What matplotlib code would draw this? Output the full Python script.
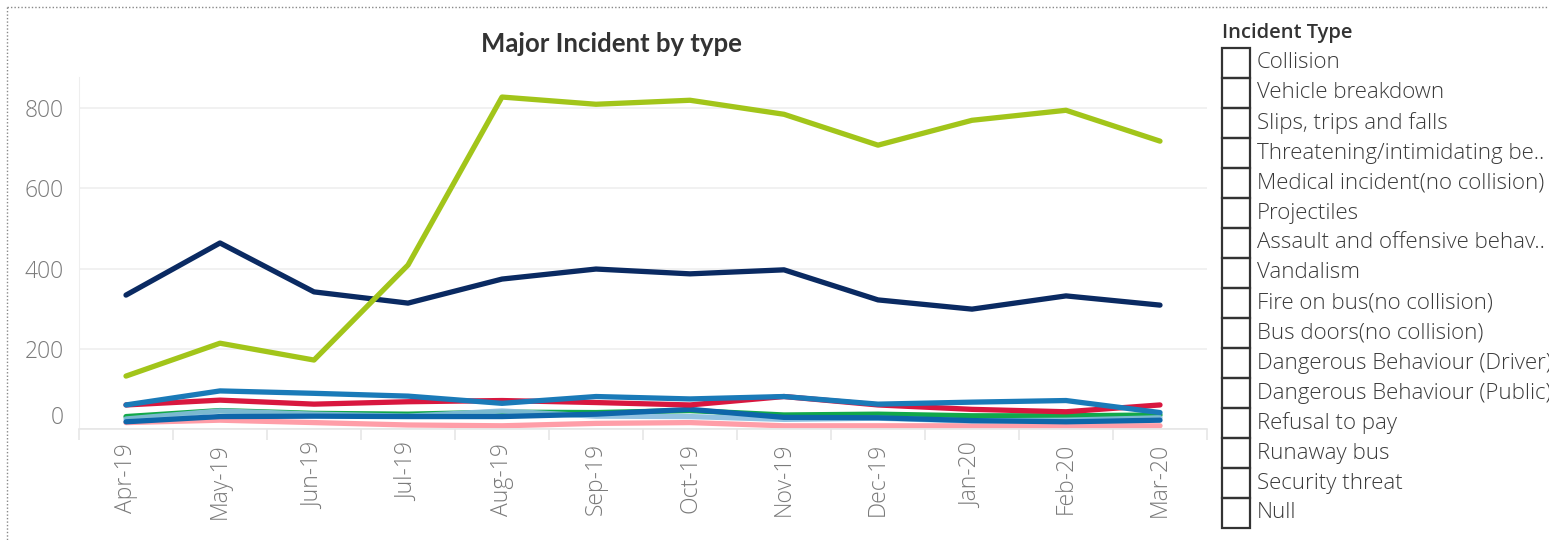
import matplotlib.pyplot as plt
from matplotlib.patches import Rectangle
from matplotlib.lines import Line2D
from matplotlib.transforms import ScaledTranslation

### Data ###
months = ['Apr-19', 'May-19', 'Jun-19', 'Jul-19', 'Aug-19', 'Sep-19',
          'Oct-19', 'Nov-19', 'Dec-19', 'Jan-20', 'Feb-20', 'Mar-20']

lime = [132, 214, 172, 409, 828, 810, 820, 785, 708, 770, 795, 718]
navy = [334, 464, 342, 314, 374, 399, 387, 397, 322, 299, 332, 309]
blue = [60, 95, 89, 82, 64, 81, 75, 81, 62, 67, 71, 41]
red = [60, 72, 62, 68, 71, 66, 60, 81, 60, 49, 43, 60]
green = [31, 46, 39, 37, 42, 41, 46, 35, 37, 33, 33, 35]
light_blue = [25, 45, 37, 32, 45, 32, 31, 24, 27, 20, 22, 28]
dark_blue = [18, 31, 32, 31, 31, 37, 49, 29, 28, 21, 18, 22]
pink = [16, 22, 16, 10, 8, 14, 16, 8, 8, 8, 8, 8]

legend_items = ['Collision', 'Vehicle breakdown', 'Slips, trips and falls',
                'Threatening/intimidating be..', 'Medical incident(no collision)',
                'Projectiles', 'Assault and offensive behav..', 'Vandalism',
                'Fire on bus(no collision)', 'Bus doors(no collision)',
                'Dangerous Behaviour (Driver)', 'Dangerous Behaviour (Public)',
                'Refusal to pay', 'Runaway bus', 'Security threat', 'Null']

W, H = 1549, 540
fig = plt.figure(figsize=(W / 100, H / 100), dpi=100)
plt.rcParams['font.family'] = ['Open Sans', 'DejaVu Sans']

ax = fig.add_axes([79 / W, 1 - 429 / H, (1207 - 79) / W, (429 - 77) / H])

x = list(range(len(months)))
series = [
    (pink, '#ff9ea8', 1.0),
    (green, '#12a84a', 1.0),
    (light_blue, '#86bcdf', 0.9),
    (dark_blue, '#0e66aa', 1.0),
    (red, '#d8173f', 1.0),
    (blue, '#1a7ab8', 1.0),
    (navy, '#0a2a62', 1.0),
    (lime, '#a2c51a', 1.0),
]
for vals, col, a in series:
    ax.plot(x, vals, color=col, lw=3.8, alpha=a, solid_capstyle='round',
            solid_joinstyle='round')

ax.set_xlim(-0.5, 11.5)
ax.set_ylim(0, 878)
ax.set_yticks([0, 200, 400, 600, 800])
ax.set_xticks(x)
ax.set_xticklabels(months, rotation=90)
ax.grid(axis='y', color='#efefef', lw=1.2)
ax.set_axisbelow(True)
for s in ['top', 'right']:
    ax.spines[s].set_visible(False)
ax.spines['left'].set_color('#eeeeee')
ax.spines['bottom'].set_color('#e6e6e6')
ax.spines['bottom'].set_linewidth(1.2)
ax.tick_params(axis='both', length=0, colors='#7a7a7a', labelsize=16.5)
ax.tick_params(axis='x', pad=10)
ax.tick_params(axis='y', pad=11)
for lab in ax.get_xticklabels() + ax.get_yticklabels():
    lab.set_fontweight('light')

# category boundary ticks below the axis
ax.set_xticks([i - 0.5 for i in range(len(months) + 1)], minor=True)
ax.tick_params(axis='x', which='minor', length=8, color='#e6e6e6', width=1.2)

# Tableau pushes the bottom label up
for lab in ax.get_yticklabels():
    if lab.get_text() in ('0', '\u22120'):
        lab.set_transform(lab.get_transform() + ScaledTranslation(0, 0.14, fig.dpi_scale_trans))

fig.text(611 / W, 1 - 44 / H, 'Major Incident by type', ha='center', va='center',
         fontsize=18.5, fontweight='bold', color='#333333',
         family=['Lato', 'DejaVu Sans'])

# legend / filter panel in pixel coords
lg = fig.add_axes([0, 0, 1, 1], zorder=-1)
lg.set_xlim(0, W)
lg.set_ylim(H, 0)
lg.axis('off')
lg.text(1222, 33, 'Incident Type', ha='left', va='center', fontsize=14.5,
        color='#333333', fontweight='semibold')
for i, name in enumerate(legend_items):
    top = 48 + 30 * i
    lg.add_patch(Rectangle((1222, top), 28, 30, fill=False, ec='#333333', lw=1.6))
    lg.text(1257, top + 15, name, ha='left', va='center', fontsize=16,
            color='#3a3a3a', fontweight='light')

# dotted frame
lg.add_line(Line2D([7, W], [7, 7], color='#888888', lw=1, ls=(0, (1, 1.5))))
lg.add_line(Line2D([7, 7], [7, H], color='#888888', lw=1, ls=(0, (1, 1.5))))

fig.savefig('out.png', dpi=100)
